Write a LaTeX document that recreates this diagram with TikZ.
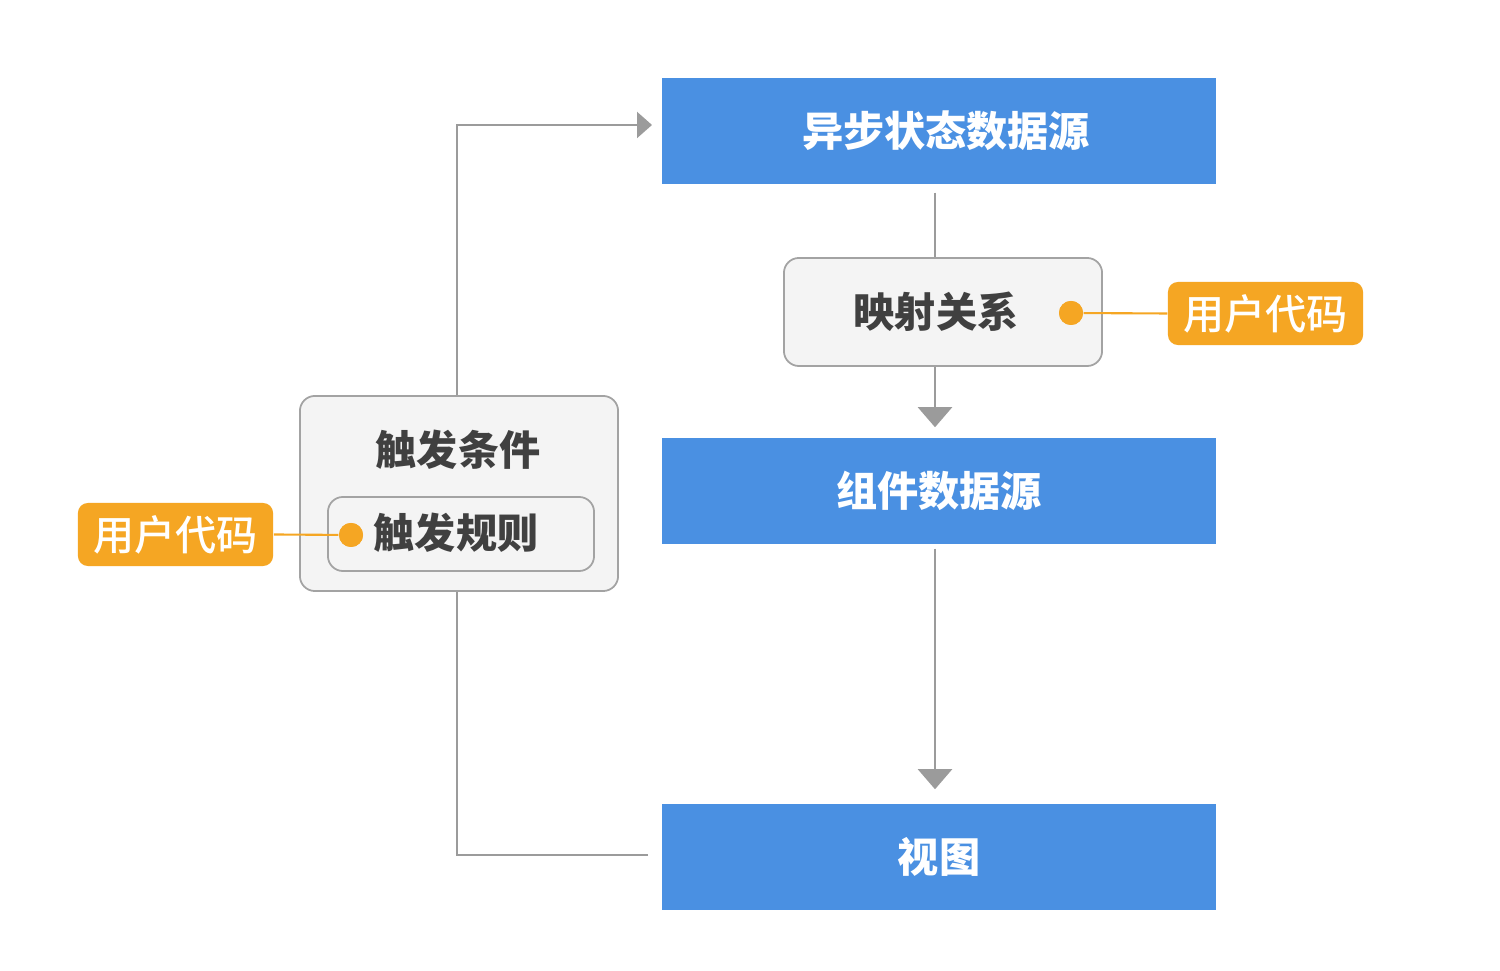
\documentclass[tikz,border=0pt]{standalone}
\usepackage{fontspec}
\newfontfamily\cjk{Noto Sans CJK SC}
\newfontfamily\cjkm{Noto Sans CJK SC Medium}
\usetikzlibrary{arrows.meta,calc}
\definecolor{bluebox}{HTML}{4A90E2}
\definecolor{orangebox}{HTML}{F5A623}
\definecolor{greyfill}{HTML}{F4F4F4}
\definecolor{greyline}{HTML}{A3A3A3}
\definecolor{connline}{HTML}{9B9B9B}
\definecolor{darktext}{HTML}{404040}
\tikzset{
  lbl/.style={font=\cjkm\fontsize{11.7pt}{14pt}\selectfont},
  bluenode/.style={font=\cjk\bfseries\fontsize{11.7pt}{14pt}\selectfont, fill=bluebox, text=white, minimum width=5.54cm, minimum height=1.06cm, inner sep=0pt},
  greynode/.style={draw=greyline, line width=0.5pt, fill=greyfill, rounded corners=0.15cm, inner sep=0pt},
  greytext/.style={font=\cjk\bfseries\fontsize{11.7pt}{14pt}\selectfont, text=darktext, inner sep=0pt},
  usercode/.style={lbl, fill=orangebox, text=white, rounded corners=0.1cm, minimum width=1.95cm, minimum height=0.63cm, inner sep=0pt},
  odot/.style={circle, fill=orangebox, minimum size=0.24cm, inner sep=0pt},
  conn/.style={draw=connline, line width=0.6pt},
  downarrow/.style={conn, -{Triangle[width=0.34cm,length=0.2cm]}, color=connline},
  rightarrow/.style={conn, -{Triangle[width=0.26cm,length=0.15cm]}, color=connline},
  olink/.style={draw=orangebox, line width=0.6pt}
}
\begin{document}
\begin{tikzpicture}[x=0.01cm,y=-0.01cm]
\useasboundingbox[fill=white] (0,0) rectangle (1500,971);
% main column
\node[bluenode] (src) at (939,131) {\hspace*{0.14cm}异步状态数据源};
\node[bluenode] (comp) at (939,491) {组件数据源};
\node[bluenode] (view) at (939,857) {视图};
% mapping
\node[greynode, minimum width=3.18cm, minimum height=1.08cm] (map) at (943,312) {};
\node[greytext] (maptxt) at (936,312) {映射关系};
\node[odot] (mdot) at (1071,313) {};
\node[usercode] (ucr) at (1265.5,313.5) {用户代码};
% trigger
\node[greynode, minimum width=3.18cm, minimum height=1.95cm] (trig) at (459,493.5) {};
\node[greytext] (trigtxt) at (458,450) {触发条件};
\node[greynode, minimum width=2.66cm, minimum height=0.74cm] (rule) at (461,534) {};
\node[greytext] (ruletxt) at (456,533) {触发规则};
\node[odot] (rdot) at (351,535) {};
\node[usercode] (ucl) at (175.5,534.5) {用户代码};
% axis coordinates
\coordinate (axis) at (935,0);
\coordinate (loopx) at (457,0);
\coordinate (srcin) at (652,125);
\coordinate (viewout) at (648,855);
% connectors
\draw[conn] ([yshift=-0.08cm]src.south -| axis) -- (map.north -| axis);
\draw[downarrow] (map.south -| axis) -- ([yshift=0.1cm]comp.north -| axis);
\draw[downarrow] ([yshift=-0.04cm]comp.south -| axis) -- ([yshift=0.14cm]view.north -| axis);
\draw[rightarrow] (trig.north -| loopx) |- (srcin);
\draw[conn] (viewout) -| (trig.south -| loopx);
\draw[olink] (mdot) -- (ucr.west);
\draw[olink] (rdot) -- (ucl.east);
\node[odot] at (mdot) {};
\node[odot] at (rdot) {};
\end{tikzpicture}
\end{document}
